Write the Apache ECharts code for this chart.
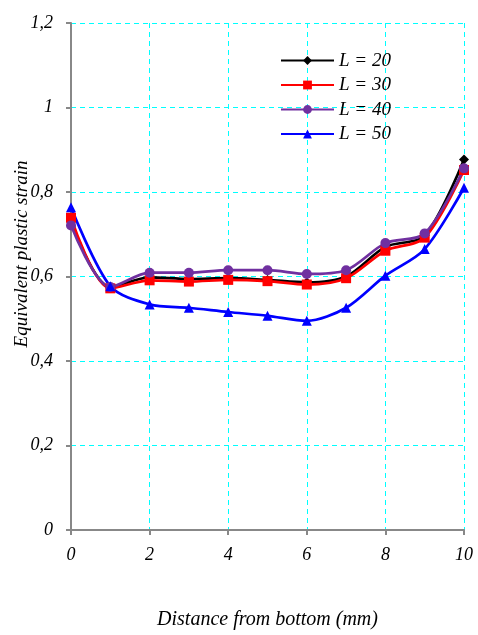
<!DOCTYPE html>
<html><head><meta charset="utf-8">
<script src="https://cdn.jsdelivr.net/npm/echarts@6/dist/echarts.min.js"></script>
<style>html,body{margin:0;padding:0;background:#fff;overflow:hidden}#c{width:100vw;height:100vh}</style>
</head><body><div id="c"></div>
<script>
var xValues = [0,1,2,3,4,5,6,7,8,9,10];
var seriesNames = ['L = 20','L = 30','L = 40','L = 50'];
var L20 = [0.730,0.575,0.598,0.594,0.596,0.592,0.586,0.600,0.670,0.697,0.877];
var L30 = [0.739,0.572,0.591,0.588,0.592,0.589,0.581,0.596,0.661,0.692,0.852];
var L40 = [0.721,0.575,0.609,0.609,0.615,0.615,0.606,0.615,0.679,0.702,0.856];
var L50 = [0.764,0.577,0.534,0.526,0.516,0.507,0.495,0.526,0.602,0.665,0.810];
var yTicks = {min:0,max:1.2,interval:0.2};
var xTicks = {min:0,max:10,interval:2};

var font = 'Liberation Serif';
function pairs(arr){return xValues.map(function(x,i){return [x,arr[i]];});}
function mk(name,data,color,symbol,size){
  return {name:name,type:'line',data:pairs(data),smooth:0.3,symbol:symbol,symbolSize:size,
    lineStyle:{color:color,width:2.7},itemStyle:{color:color},z:2};
}
var chart = echarts.init(document.getElementById('c'));
chart.setOption({
  animation:false,
  grid:{left:71,right:14,top:23,bottom:89.5},
  legend:{orient:'vertical',left:275,top:46,itemWidth:53,itemHeight:11,itemGap:5.5,
    textStyle:{fontFamily:font,fontStyle:'italic',fontSize:19,lineHeight:19,color:'#000'},
    data:seriesNames},
  xAxis:{type:'value',min:xTicks.min,max:xTicks.max,interval:xTicks.interval,
    name:'Distance from bottom (mm)',nameLocation:'middle',nameGap:80,
    nameTextStyle:{fontFamily:font,fontStyle:'italic',fontSize:20,color:'#000'},
    axisLine:{lineStyle:{color:'#888',width:2}},
    axisTick:{show:true,length:5,lineStyle:{color:'#888',width:2}},
    axisLabel:{margin:16,fontFamily:font,fontStyle:'italic',fontSize:18,color:'#000'},
    splitLine:{show:true,lineStyle:{color:'#00ffff',type:[5,4],width:1}}},
  yAxis:{type:'value',min:yTicks.min,max:yTicks.max,interval:yTicks.interval,
    axisLine:{show:true,lineStyle:{color:'#888',width:2}},
    axisTick:{show:true,length:5,lineStyle:{color:'#888',width:2}},
    axisLabel:{margin:18,fontFamily:font,fontStyle:'italic',fontSize:18,color:'#000',
      formatter:function(v){return String(Math.round(v*10)/10).replace('.',',');}},
    splitLine:{show:true,lineStyle:{color:'#00ffff',type:[5,4],width:1}}},
  graphic:[{type:'text',x:22,y:254,rotation:Math.PI/2,
    style:{text:'Equivalent plastic strain',fontFamily:font,fontStyle:'italic',fontSize:19,fill:'#000',
      align:'center',verticalAlign:'middle'},z:10}],
  series:[
    mk(seriesNames[0],L20,'#000000','diamond',10),
    mk(seriesNames[1],L30,'#ff0000','rect',10),
    mk(seriesNames[2],L40,'#7030a0','circle',10),
    mk(seriesNames[3],L50,'#0000ff','triangle',10)
  ]
});
</script></body></html>
